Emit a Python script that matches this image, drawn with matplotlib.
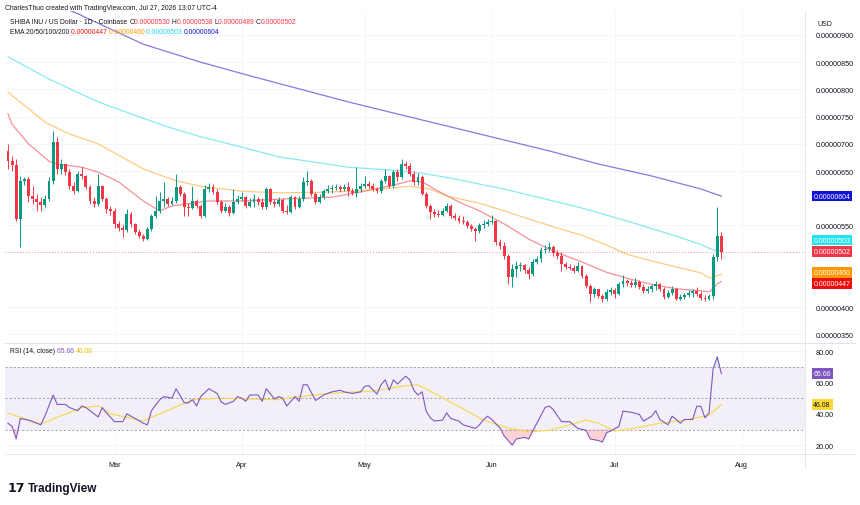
import numpy as np
import pandas as pd
import matplotlib
matplotlib.use('Agg')
import matplotlib.pyplot as plt
import matplotlib.dates as mdates
from matplotlib.transforms import blended_transform_factory

plt.rcParams['font.family'] = ['Liberation Sans', 'DejaVu Sans']

# daily candles, prices in units of 1e-8 USD (687 -> 0.00000687)
start = '2026-02-03'
first_open = 687
close = [668, 661, 562, 632, 635, 604, 599, 593, 588, 599,
         632, 703, 654, 663, 648, 622, 613, 645, 641, 621,
         595, 589, 622, 599, 580, 577, 553, 546, 542, 571,
         553, 538, 531, 525, 543, 567, 577, 595, 599, 589,
         595, 621, 608, 584, 582, 595, 586, 567, 617, 621,
         611, 593, 577, 584, 573, 593, 599, 602, 586, 593,
         599, 593, 584, 617, 593, 589, 597, 577, 575, 602,
         584, 599, 630, 632, 608, 593, 602, 613, 617, 619,
         621, 617, 621, 613, 610, 617, 622, 626, 622, 617,
         613, 632, 641, 622, 648, 639, 663, 659, 645, 630,
         639, 608, 586, 575, 571, 569, 577, 586, 567, 564,
         558, 556, 549, 543, 540, 551, 553, 556, 558, 520,
         512, 494, 455, 470, 475, 477, 468, 461, 483, 488,
         505, 507, 510, 499, 494, 479, 474, 472, 466, 475,
         457, 439, 424, 433, 420, 415, 428, 431, 424, 442,
         448, 444, 440, 446, 437, 430, 433, 439, 442, 433,
         418, 426, 433, 415, 418, 422, 426, 430, 424, 417,
         415, 420, 492, 530, 502]
high = [700, 678, 672, 641, 639, 639, 622, 608, 602, 606,
        639, 724, 713, 672, 663, 654, 630, 650, 657, 643,
        624, 602, 645, 624, 602, 586, 582, 558, 551, 580,
        575, 555, 543, 534, 547, 571, 604, 611, 630, 602,
        602, 645, 624, 611, 591, 622, 599, 589, 624, 628,
        626, 617, 597, 591, 588, 617, 606, 611, 604, 600,
        608, 602, 600, 621, 619, 599, 602, 600, 588, 606,
        604, 604, 639, 650, 635, 611, 608, 617, 624, 624,
        626, 624, 626, 630, 619, 657, 628, 641, 632, 628,
        621, 635, 654, 643, 652, 654, 672, 668, 665, 650,
        646, 643, 611, 589, 580, 578, 582, 591, 589, 573,
        569, 567, 560, 553, 547, 555, 560, 562, 569, 560,
        525, 520, 497, 479, 485, 483, 479, 474, 488, 494,
        510, 514, 520, 514, 505, 501, 483, 479, 477, 483,
        477, 461, 442, 437, 431, 424, 433, 437, 435, 446,
        459, 451, 450, 453, 450, 442, 439, 442, 448, 444,
        437, 431, 439, 435, 424, 426, 431, 433, 437, 430,
        422, 424, 497, 584, 538]
low = [654, 650, 558, 510, 624, 593, 589, 577, 577, 584,
       595, 626, 645, 645, 643, 617, 608, 611, 635, 617,
       589, 584, 586, 595, 573, 569, 545, 540, 529, 538,
       547, 534, 527, 521, 523, 540, 564, 573, 584, 586,
       588, 591, 604, 567, 567, 580, 582, 564, 566, 611,
       608, 589, 573, 575, 567, 571, 589, 595, 582, 584,
       584, 588, 580, 580, 589, 584, 586, 573, 571, 573,
       580, 582, 595, 624, 604, 589, 591, 599, 610, 610,
       615, 611, 613, 604, 606, 602, 611, 619, 619, 613,
       610, 610, 628, 619, 619, 632, 635, 654, 641, 624,
       624, 606, 582, 562, 566, 566, 567, 575, 564, 560,
       555, 553, 545, 540, 521, 536, 545, 549, 553, 514,
       507, 488, 442, 437, 455, 466, 463, 451, 457, 479,
       483, 499, 501, 494, 488, 466, 470, 468, 463, 464,
       453, 435, 409, 418, 417, 409, 411, 422, 417, 422,
       437, 439, 437, 437, 433, 426, 426, 428, 431, 430,
       415, 417, 422, 413, 413, 415, 418, 418, 420, 413,
       411, 413, 415, 485, 489]

# EMA lines (day offset from start, value)
ema20_days = [0, 1, 5, 10, 12, 18, 22, 27, 33, 37, 40, 49, 57, 68, 79, 87, 94, 98,
              101, 105, 110, 115, 121, 127, 133, 140, 146, 152, 158, 164, 169, 171,
              172, 173, 174]
ema20_vals = [755, 736, 700, 668, 663, 657, 648, 630, 595, 577, 586, 595, 595, 599,
              602, 613, 624, 632, 630, 613, 593, 577, 553, 525, 503, 483, 464, 451,
              440, 433, 430, 428, 434, 443, 447]
ema50_days = [0, 9, 15, 22, 33, 41, 47, 57, 66, 76, 83, 91, 98, 103, 107, 115, 121,
              127, 135, 140, 146, 151, 158, 164, 169, 171, 172, 173, 174]
ema50_vals = [795, 740, 718, 700, 654, 632, 622, 613, 610, 611, 613, 617, 622, 617,
              604, 591, 577, 562, 543, 532, 514, 497, 483, 472, 463, 454, 455, 458, 460]
ema100_days = [0, 10, 22, 30, 39, 47, 57, 66, 76, 83, 93, 101, 108, 115, 121, 127,
               133, 140, 146, 152, 158, 164, 169, 172, 174]
ema100_vals = [860, 819, 777, 755, 731, 713, 694, 676, 665, 657, 652, 646, 637, 626,
               617, 606, 595, 582, 569, 556, 542, 528, 515, 505, 503]
ema200_days = [0, 17, 33, 47, 59, 71, 83, 96, 108, 120, 132, 144, 157, 169, 174]
ema200_vals = [994, 939, 883, 850, 825, 801, 777, 753, 731, 709, 687, 663, 641, 617, 604]

# RSI(14) and its moving average
rsi_days = [0, 1, 2, 3, 5, 7, 8, 9, 11, 12, 14, 15, 17, 18, 19, 21, 22, 23, 24, 26,
            28, 29, 31, 33, 34, 35, 37, 38, 40, 41, 43, 44, 45, 46, 47, 49, 51, 52, 53,
            55, 56, 57, 58, 59, 61, 62, 63, 65, 66, 67, 68, 70, 71, 72, 73, 75, 77, 79,
            81, 82, 84, 86, 87, 88, 90, 91, 92, 93, 94, 95, 97, 98, 99, 100, 101, 102,
            103, 104, 106, 107, 108, 110, 111, 114, 115, 116, 117, 118, 120, 121, 123,
            124, 126, 127, 129, 131, 132, 133, 135, 137, 139, 141, 142, 144, 145, 146,
            147, 149, 150, 152, 154, 155, 157, 158, 159, 161, 162, 163, 164, 165, 167,
            168, 169, 170, 171, 172, 173, 174]
rsi_vals = [34, 32, 24, 37, 36, 34, 33, 38.5, 52, 46, 46, 44, 42, 45, 44, 40, 38, 44,
            40.6, 35, 35, 40, 37, 34, 33, 42, 49, 51, 50, 56, 47, 47, 49, 45, 51, 56,
            53, 47.6, 46, 48, 51, 50, 48, 52, 52, 48, 56, 49.5, 51, 50, 45, 51, 48,
            58.5, 58.5, 48.5, 52, 54, 55, 54, 53, 54, 57.5, 58, 52.6, 58.5, 61.7, 55,
            61.7, 59, 64, 61.7, 55, 52, 54, 41.7, 37.5, 35.4, 36, 40.6, 37, 35.4, 33,
            30.7, 33, 36.4, 38.5, 36.4, 31, 26, 20, 24, 25, 24, 34, 44, 45, 42.7, 35,
            35, 30.7, 29.5, 24, 23, 22, 28, 29, 32, 41.7, 41, 39.6, 35.4, 38.5, 42,
            36.4, 33, 38.5, 36.4, 34, 36.4, 36.4, 44.8, 44.8, 37.5, 40.6, 69, 76.4, 65.66]
rsi_ma_days = [0, 8, 18, 22, 25, 33, 45, 52, 65, 78, 89, 97, 100, 104, 109, 116, 122,
               127, 132, 137, 141, 144, 148, 153, 159, 165, 171, 174]
rsi_ma_vals = [40.5, 33.5, 44, 45, 40, 35.5, 49, 50, 49, 53, 54.5, 58, 58.5, 53, 46, 36,
               31, 28.5, 29.5, 33, 36, 34, 29, 31, 34, 36, 39, 46.08]

# price scale labels that the axis tags do not cover
price_ticks = [350, 400, 550, 650, 700, 750, 800, 850, 900]
months = ['2026-03-01', '2026-04-01', '2026-05-01', '2026-06-01', '2026-07-01', '2026-08-01']

GREEN, RED = '#089981', '#f23645'
TEXT = '#131722'
GRAY = '#787b86'
W, H = 860, 506


def box(l, t, r, b):
    return [l / W, 1 - b / H, (r - l) / W, (b - t) / H]


t0 = pd.Timestamp(start)
dates = pd.date_range(start, periods=len(close))
x = mdates.date2num(dates)
x0 = mdates.date2num(t0)


def day_x(days):
    return x0 + np.asarray(days, dtype=float)


fig = plt.figure(figsize=(W / 100, H / 100), dpi=100)
ax = fig.add_axes(box(5, 12, 805, 343))
ax2 = fig.add_axes(box(5, 345, 805, 455), sharex=ax)

for a in (ax, ax2):
    for s in a.spines.values():
        s.set_visible(False)
    a.set_facecolor('white')
    a.yaxis.tick_right()
    a.tick_params(length=0, labelsize=5.2, labelcolor=TEXT, pad=8)

# candles
c = np.array(close, dtype=float)
o = np.array([first_open] + close[:-1], dtype=float)
col = np.where(c >= o, GREEN, RED)
ax.vlines(x, low, high, colors=col, lw=0.7, zorder=3)
ax.bar(x, np.maximum(np.abs(c - o), 1.6), bottom=np.minimum(o, c), width=0.7,
       color=col, lw=0, zorder=4)

# EMAs
ax.plot(day_x(ema20_days), ema20_vals, color='#f23645', alpha=0.55, lw=0.9, zorder=2)
ax.plot(day_x(ema50_days), ema50_vals, color='#ff9800', alpha=0.5, lw=0.9, zorder=2)
ax.plot(day_x(ema100_days), ema100_vals, color='#26d9e6', alpha=0.55, lw=0.9, zorder=2)
ax.plot(day_x(ema200_days), ema200_vals, color='#5a4fd6', alpha=0.75, lw=0.9, zorder=2)

# last price line
ax.axhline(close[-1], color=RED, lw=0.7, ls=(0, (1, 2)), alpha=0.6, zorder=1)

ax.set_ylim(336, 944)
ax.set_yticks(price_ticks)
ax.yaxis.set_major_formatter(plt.FuncFormatter(lambda v, p: f'{v * 1e-8:.8f}'))
ax.set_xlim(x0 - 0.73, x0 + 194.4)
ax.grid(color='#f3f4f7', lw=0.6)
ax.tick_params(labelbottom=False)

# axis tags on the right
tr = blended_transform_factory(ax.transAxes, ax.transData)
tags = [(604, '#1212d8', 'white', 0), (503, '#22e3f0', 'white', 11),
        (502, RED, 'white', 0), (460, '#ff9800', 'white', 2), (447, '#f00d0d', 'white', -2)]
for v, bg, fg, dy in tags:
    ax.annotate(f'{v * 1e-8:.8f}', xy=(1.0, v), xycoords=tr, xytext=(6, dy * 0.72),
                textcoords='offset points', va='center', ha='left', fontsize=5.0,
                color=fg, annotation_clip=False,
                bbox=dict(boxstyle='square,pad=0.25', fc=bg, ec='none'))

# RSI panel
rx = day_x(rsi_days)
rv = np.array(rsi_vals)
ax2.axhspan(30, 70, color='#7e57c2', alpha=0.09, lw=0)
for lv in (70, 50, 30):
    ax2.axhline(lv, color=GRAY, lw=0.6, ls=(0, (2.5, 2.5)), alpha=0.8)
ax2.fill_between(rx, rv, 30, where=rv < 30, interpolate=True, color=RED, alpha=0.22, lw=0)
ax2.fill_between(rx, rv, 70, where=rv > 70, interpolate=True, color=GREEN, alpha=0.18, lw=0)
ax2.plot(day_x(rsi_ma_days), rsi_ma_vals, color='#f5d94a', lw=0.9, alpha=0.9)
ax2.plot(rx, rv, color='#7e57c2', lw=0.8)
ax2.set_ylim(14.4, 84.5)
ax2.set_yticks([20, 40, 60, 80])
ax2.yaxis.set_major_formatter(plt.FuncFormatter(lambda v, p: f'{v:.2f}'))
ax2.grid(color='#f3f4f7', lw=0.6)
ax2.set_xticks(mdates.date2num(pd.to_datetime(months)))
ax2.xaxis.set_major_formatter(mdates.DateFormatter('%b'))
ax2.tick_params(axis='x', pad=5)

tr2 = blended_transform_factory(ax2.transAxes, ax2.transData)
for v, bg, fg in [(rsi_vals[-1], '#7e57c2', 'white'), (rsi_ma_vals[-1], '#fdd835', TEXT)]:
    ax2.annotate(f'{v:.2f}', xy=(1.0, v), xycoords=tr2, xytext=(6, 0),
                 textcoords='offset points', va='center', ha='left', fontsize=5.0,
                 color=fg, annotation_clip=False,
                 bbox=dict(boxstyle='square,pad=0.25', fc=bg, ec='none'))

# panel separators
fig.add_artist(plt.Line2D([5 / W, 855 / W], [1 - 344 / H] * 2, color='#e0e3eb', lw=0.8))
fig.add_artist(plt.Line2D([805 / W] * 2, [1 - 12 / H, 1 - 470 / H], color='#e0e3eb', lw=0.6))
fig.add_artist(plt.Line2D([5 / W, 855 / W], [1 - 455 / H] * 2, color='#e0e3eb', lw=0.6))

# header texts
renderer = fig.canvas.get_renderer()


def rich(x_px, y_px, parts, size=4.9):
    xx = x_px / W
    for txt, color in parts:
        t = fig.text(xx, 1 - y_px / H, txt, color=color, fontsize=size, va='center')
        bb = t.get_window_extent(renderer)
        xx = bb.x1 / W


fig.text(5 / W, 1 - 8 / H, 'CharlesThuo created with TradingView.com, Jul 27, 2026 13:07 UTC-4',
         fontsize=4.9, color=TEXT, va='center')
rich(10, 23, [('SHIBA INU / US Dollar · 1D · Coinbase ', TEXT),
              ('O', TEXT), ('0.00000530 ', RED), ('H', TEXT), ('0.00000538 ', RED),
              ('L', TEXT), ('0.00000489 ', RED), ('C', TEXT), ('0.00000502', RED)])
rich(10, 33, [('EMA 20/50/100/200 ', TEXT), ('0.00000447 ', '#f00d0d'),
              ('0.00000460 ', '#ff9800'), ('0.00000503 ', '#22d6e6'),
              ('0.00000604', '#1212d8')])
rich(10, 352, [('RSI (14, close) ', TEXT), ('65.66 ', '#7e57c2'), ('46.08', '#e8c100')])
fig.text(818 / W, 1 - 25 / H, 'USD', fontsize=5.0, color=TEXT, va='center')

# logo
fig.text(8 / W, 1 - 489 / H, '17', fontsize=9, fontweight='bold', color=TEXT, va='center',
         family='DejaVu Sans')
fig.text(28 / W, 1 - 489 / H, 'TradingView', fontsize=8.5, fontweight='bold', color=TEXT,
         va='center')

fig.savefig('out.png', dpi=100)
